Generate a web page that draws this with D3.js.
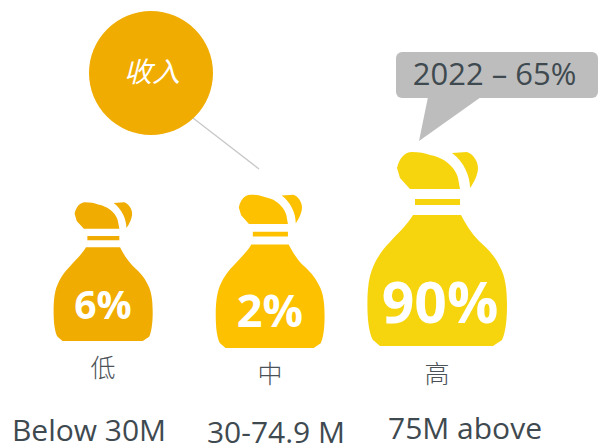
<!DOCTYPE html>
<html>
<head>
<meta charset="utf-8">
<script src="https://cdn.jsdelivr.net/npm/d3@7"></script>
<style>
  html, body { margin: 0; padding: 0; background: #fff; overflow: hidden; }
  svg { display: block; }
  text { font-family: "Open Sans", "Noto Sans", sans-serif; }
</style>
</head>
<body>
<svg id="chart"></svg>
<script>
const width = 598;
const height = 446;

const levels = ['低', '中', '高'];
const shares = [6, 2, 90];
const ranges = ['Below 30M', '30-74.9 M', '75M above'];
const calloutYear = '2022';
const calloutShare = 65;
const title = '收入';

const svg = d3.select('#chart')
    .attr('width', width)
    .attr('height', height);

const xScale = d3.scalePoint().domain(levels).range([103, 437]);
const colorScale = d3.scaleOrdinal().domain(levels).range(['#f0ac00', '#fdc100', '#f6d50e']);
const sizeX = d3.scaleOrdinal().domain(levels).range([0.71, 0.78, 1]);
const sizeY = d3.scaleOrdinal().domain(levels).range([0.715, 0.79, 1]);
const bottomY = d3.scaleOrdinal().domain(levels).range([341, 348, 346]);
const pctSize = d3.scaleOrdinal().domain(levels).range([39, 45, 57]);
const pctX = d3.scaleOrdinal().domain(levels).range([103, 270, 440]);
const pctY = d3.scaleOrdinal().domain(levels).range([319, 327, 323]);
const levelY = d3.scaleOrdinal().domain(levels).range([377, 383, 383]);
const rangeY = d3.scaleOrdinal().domain(levels).range([441, 443, 439]);
const rangeX = d3.scaleOrdinal().domain(levels).range([89, 276, 465]);

// bag outline, drawn around centre x = 0 and bottom y = 0
const bagBody = 'M-24,-131 C-29,-122 -38,-114 -47,-104 C-57,-94 -64,-82 -67,-70 C-70,-58 -70,-40 -69,-26 '
    + 'C-68,-16 -66,-9 -64,-6 L-57,0 L56,0 L65,-6 C68,-12 70,-24 70,-40 C70,-58 68,-70 63,-79 '
    + 'C58,-90 50,-98 42,-105 C34,-113 28,-123 24,-131 Z';
const bagBand = 'M-22,-147 L23,-147 L23,-141 L-22,-141 Z';
const bagKnot = 'M-27,-157 L-37,-168 L-40,-178 C-38,-187 -33,-194 -25,-194 C-18,-194 -12,-193 -7,-191 '
    + 'C3,-189 9,-185 13,-181 C18,-176 20,-172 21,-168 L23,-157 Z';
const bagEar = 'M15,-193 L30,-194 C36,-192 41,-185 41,-178 C41,-172 37,-163 33,-158 C33,-170 27,-184 15,-193 Z';

const bags = svg.selectAll('g.bag')
    .data(levels)
    .enter()
    .append('g')
    .attr('class', 'bag');

const shapes = bags.append('g')
    .attr('transform', d => `translate(${xScale(d)},${bottomY(d)}) scale(${sizeX(d)},${sizeY(d)})`)
    .attr('fill', d => colorScale(d));
shapes.append('path').attr('d', bagBody);
shapes.append('path').attr('d', bagBand);
shapes.append('path').attr('d', bagKnot);
shapes.append('path').attr('d', bagEar);

bags.append('text')
    .attr('x', d => pctX(d))
    .attr('y', d => pctY(d))
    .attr('text-anchor', 'middle')
    .attr('fill', '#fff')
    .attr('font-weight', 700)
    .attr('font-size', d => pctSize(d))
    .text((d, i) => `${shares[i]}%`);

bags.append('text')
    .attr('x', d => xScale(d))
    .attr('y', d => levelY(d))
    .attr('text-anchor', 'middle')
    .attr('fill', '#4a5257')
    .attr('font-size', 25)
    .style('font-family', '"Noto Sans CJK SC"')
    .style('font-weight', 300)
    .text(d => d);

bags.append('text')
    .attr('x', d => rangeX(d))
    .attr('y', d => rangeY(d))
    .attr('text-anchor', 'middle')
    .attr('fill', '#3f4a50')
    .attr('font-size', 30)
    .text((d, i) => ranges[i]);

// title circle and its leader line
svg.append('line')
    .attr('x1', 193).attr('y1', 118)
    .attr('x2', 259).attr('y2', 169)
    .attr('stroke', '#c8c8c8')
    .attr('stroke-width', 1.3);

svg.append('circle')
    .attr('cx', 151).attr('cy', 73).attr('r', 62)
    .attr('fill', '#f0ac00');

svg.append('text')
    .attr('x', 152).attr('y', 82)
    .attr('text-anchor', 'middle')
    .attr('fill', '#fff')
    .attr('font-size', 28)
    .attr('font-style', 'italic')
    .style('font-family', '"Noto Sans CJK SC"')
    .style('font-weight', 400)
    .text(title);

// callout
svg.append('path')
    .attr('d', 'M428,97 L481,97 L419,141 Z')
    .attr('fill', '#bdbdbd');

svg.append('rect')
    .attr('x', 396).attr('y', 52)
    .attr('width', 202).attr('height', 46)
    .attr('rx', 6)
    .attr('fill', '#bdbdbd');

svg.append('text')
    .attr('x', 494.5).attr('y', 85)
    .attr('text-anchor', 'middle')
    .attr('fill', '#3f4a50')
    .attr('font-size', 31)
    .text(`${calloutYear} – ${calloutShare}%`);
</script>
</body>
</html>
